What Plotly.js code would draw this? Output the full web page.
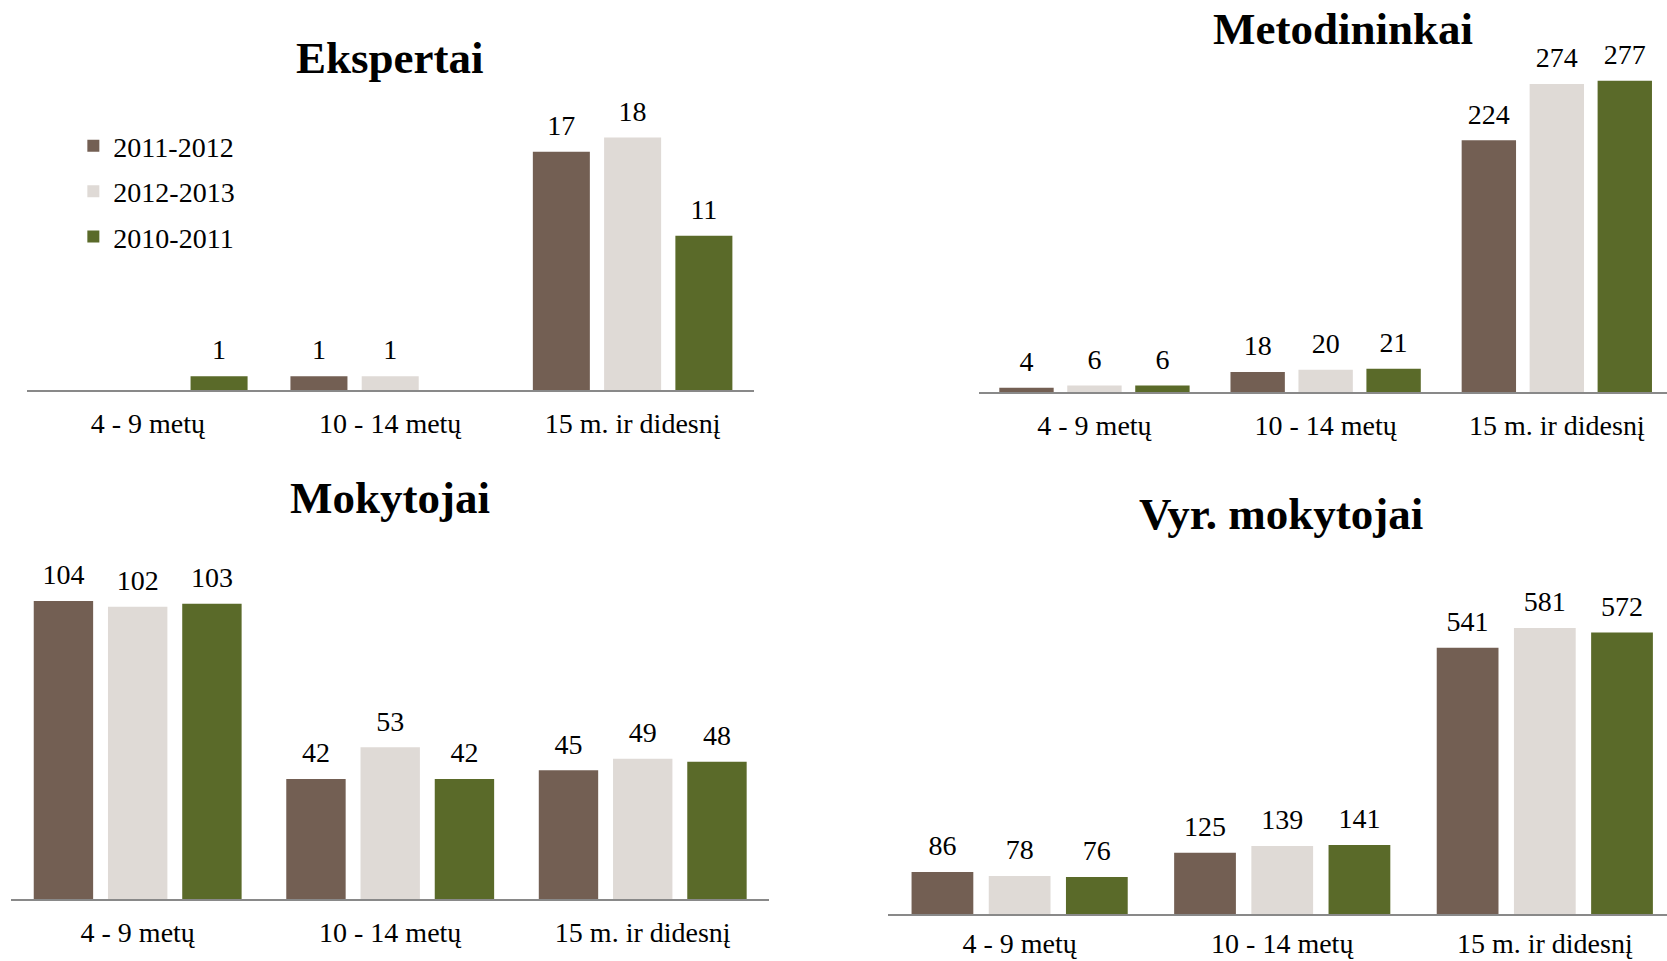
<!DOCTYPE html>
<html>
<head>
<meta charset="utf-8">
<script src="https://cdn.plot.ly/plotly-3.0.1.min.js"></script>
<style>
  html, body { margin: 0; padding: 0; background: #fff; }
  #chart { width: 1667px; height: 961px; }
</style>
</head>
<body>
<div id="chart"></div>
<script>
// ---- data ----
const categories = ["4 - 9 metų", "10 - 14 metų", "15 m. ir didesnį"];
const seriesNames = ["2011-2012", "2012-2013", "2010-2011"];
const seriesColors = ["#735F53", "#DFDAD6", "#5A6A29"];

const ekspertai_2011_2012 = [null, 1, 17];
const ekspertai_2012_2013 = [null, 1, 18];
const ekspertai_2010_2011 = [1, null, 11];

const metodininkai_2011_2012 = [4, 18, 224];
const metodininkai_2012_2013 = [6, 20, 274];
const metodininkai_2010_2011 = [6, 21, 277];

const mokytojai_2011_2012 = [104, 42, 45];
const mokytojai_2012_2013 = [102, 53, 49];
const mokytojai_2010_2011 = [103, 42, 48];

const vyrMokytojai_2011_2012 = [86, 125, 541];
const vyrMokytojai_2012_2013 = [78, 139, 581];
const vyrMokytojai_2010_2011 = [76, 141, 572];

const chartTitles = ["Ekspertai", "Metodininkai", "Mokytojai", "Vyr. mokytojai"];

// ---- build ----
const FONT = "'Liberation Serif', 'Times New Roman', serif";
const groups = [
  [ekspertai_2011_2012, ekspertai_2012_2013, ekspertai_2010_2011],
  [metodininkai_2011_2012, metodininkai_2012_2013, metodininkai_2010_2011],
  [mokytojai_2011_2012, mokytojai_2012_2013, mokytojai_2010_2011],
  [vyrMokytojai_2011_2012, vyrMokytojai_2012_2013, vyrMokytojai_2010_2011]
];
const axisIds = [["x", "y"], ["x2", "y2"], ["x3", "y3"], ["x4", "y4"]];

const traces = [];
groups.forEach((g, gi) => {
  g.forEach((vals, si) => {
    traces.push({
      type: "bar",
      x: categories,
      y: vals,
      name: seriesNames[si],
      xaxis: axisIds[gi][0],
      yaxis: axisIds[gi][1],
      offsetgroup: "s" + si,
      marker: { color: seriesColors[si], line: { width: 0 } },
      showlegend: gi === 0,
      legendgroup: "g" + si,
      hoverinfo: "skip"
    });
  });
  // value labels, grouped like the bars
  g.forEach((vals, si) => {
    traces.push({
      type: "scatter",
      mode: "markers+text",
      x: categories,
      y: vals,
      xaxis: axisIds[gi][0],
      yaxis: axisIds[gi][1],
      offsetgroup: "s" + si,
      marker: { size: 14, opacity: 0, color: seriesColors[si] },
      text: vals.map(v => v === null ? "" : String(v)),
      textposition: "top center",
      textfont: { family: FONT, size: 28, color: "#000" },
      cliponaxis: false,
      showlegend: false,
      hoverinfo: "skip"
    });
  });
});

function xax(domain, range, anchor, standoff) {
  return {
    domain: domain, range: range, type: "category", anchor: anchor,
    showgrid: false, zeroline: false, showline: true,
    linecolor: "#898989", linewidth: 2,
    ticks: "", ticklabelstandoff: standoff,
    tickfont: { family: FONT, size: 28, color: "#000" },
    fixedrange: true
  };
}
function yax(domain, range, anchor) {
  return {
    domain: domain, range: range, anchor: anchor,
    visible: false, showgrid: false, zeroline: false, fixedrange: true
  };
}

const layout = {
  width: 1667, height: 961,
  margin: { l: 0, r: 0, t: 0, b: 0 },
  paper_bgcolor: "#fff", plot_bgcolor: "rgba(0,0,0,0)",
  barmode: "group", bargap: 0.118, bargroupgap: 0.2,
  scattermode: "group", scattergap: 0.118,
  font: { family: FONT, color: "#000" },
  showlegend: true,
  legend: {
    x: 0.044, y: 0.874, xanchor: "left", yanchor: "top",
    font: { family: FONT, size: 28, color: "#000" },
    tracegroupgap: 6, bgcolor: "rgba(0,0,0,0)"
  },
  xaxis:  xax([0.01596, 0.4522], [-0.5, 2.5], "y", 7),
  yaxis:  yax([0.5940, 0.8860], [0, 20], "x"),
  xaxis2: xax([0.5872, 1], [-0.5, 2.4766], "y2", 7),
  yaxis2: yax([0.5918, 0.9430], [0, 300], "x2"),
  xaxis3: xax([0.00685, 0.4613], [-0.5, 2.5], "y3", 7),
  yaxis3: yax([0.0640, 0.4225], [0, 120], "x3"),
  xaxis4: xax([0.5329, 1], [-0.5, 2.4653], "y4", 3),
  yaxis4: yax([0.0485, 0.4075], [0, 700], "x4"),
  annotations: [
    { text: chartTitles[0], x: 390 / 1667, y: 1 - 58.5 / 961 },
    { text: chartTitles[1], x: 1343 / 1667, y: 1 - 28.7 / 961 },
    { text: chartTitles[2], x: 390 / 1667, y: 1 - 497.6 / 961 },
    { text: chartTitles[3], x: 1281 / 1667, y: 1 - 513.5 / 961 }
  ].map(a => Object.assign(a, {
    xref: "paper", yref: "paper", xanchor: "center", yanchor: "middle",
    showarrow: false,
    font: { family: FONT, size: 45, color: "#000", weight: "bold" }
  }))
};

Plotly.newPlot("chart", traces, layout, { displayModeBar: false, staticPlot: true });
</script>
</body>
</html>
